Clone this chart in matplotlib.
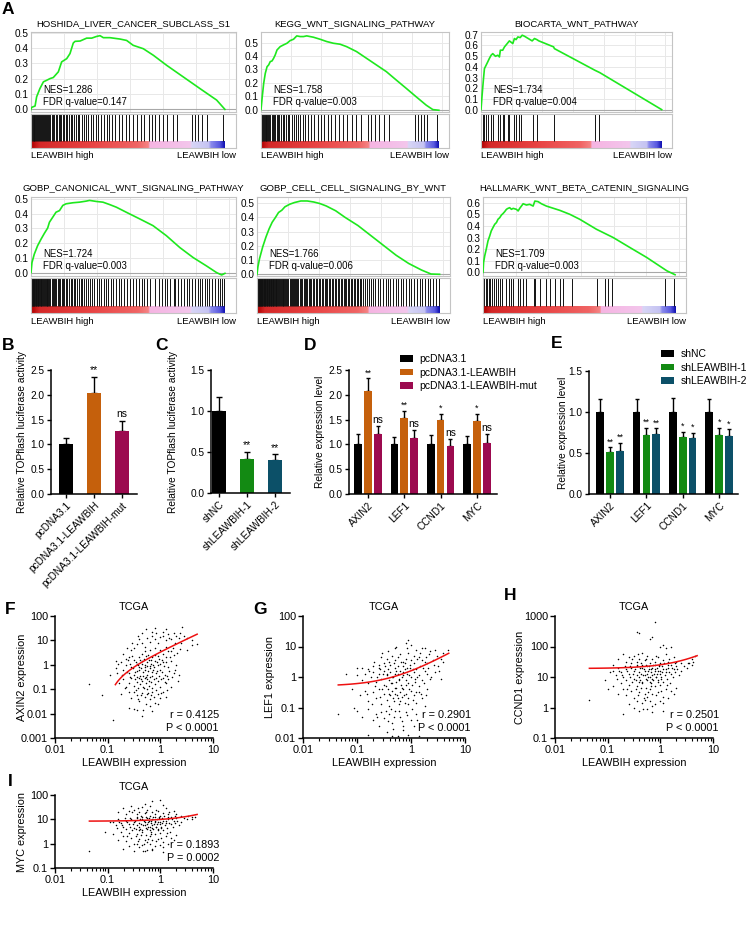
import numpy as np
import matplotlib
matplotlib.use('Agg')
import matplotlib.pyplot as plt
from matplotlib.colors import LinearSegmentedColormap
from matplotlib.ticker import LogLocator, NullLocator, NullFormatter

plt.rcParams['font.family'] = ['Liberation Sans', 'DejaVu Sans']
W, H = 749, 951
fig = plt.figure(figsize=(W / 100, H / 100), dpi=100)


def axpx(l, t, r, b):
    return fig.add_axes([l / W, 1 - b / H, (r - l) / W, (b - t) / H])


def ftext(x, y, s, **kw):
    fig.text(x / W, 1 - y / H, s, **kw)


# ------------------------------------------------------------------ GSEA data
gsea_titles = ['HOSHIDA_LIVER_CANCER_SUBCLASS_S1', 'KEGG_WNT_SIGNALING_PATHWAY',
               'BIOCARTA_WNT_PATHWAY', 'GOBP_CANONICAL_WNT_SIGNALING_PATHWAY',
               'GOBP_CELL_CELL_SIGNALING_BY_WNT', 'HALLMARK_WNT_BETA_CATENIN_SIGNALING']
gsea_nes = ['1.286', '1.758', '1.734', '1.724', '1.766', '1.709']
gsea_fdr = ['0.147', '0.003', '0.004', '0.003', '0.006', '0.003']

es1_x = [0, .003, .021, .029, .046, .064, .081, .098, .115, .141, .158, .184, .201, .218, .227, .253, .287, .313,
         .338, .356, .373, .407, .459, .493, .527, .579, .631, .699, .785, .871, .957, 1.0]
es1_y = [0, .013, .022, .082, .136, .180, .190, .201, .208, .245, .310, .331, .364, .433, .444, .446, .465, .465,
         .476, .481, .468, .468, .459, .450, .418, .396, .353, .288, .212, .136, .061, 0.0]
es2_x = [0, .007, .015, .024, .034, .043, .052, .062, .071, .080, .090, .108, .127, .146, .164, .183, .201, .220,
         .239, .257, .295, .332, .369, .407, .444, .481, .537, .593, .649, .705, .761, .817, .873, .929, .966, 1.0]
es2_y = [0, .095, .195, .27, .32, .333, .358, .363, .383, .408, .445, .47, .483, .495, .515, .525, .55, .545,
         .545, .55, .54, .525, .508, .495, .488, .47, .433, .383, .333, .283, .22, .158, .095, .033, 0.0, -.005]
es3_x = [0, .006, .013, .019, .028, .037, .046, .056, .065, .080, .093, .102, .107, .120, .130, .148, .157, .176,
         .185, .194, .204, .217, .228, .241, .283, .296, .309, .320, .402, .406, .630, .657, 1.0]
es3_y = [0, .134, .274, .383, .414, .445, .477, .508, .523, .498, .508, .492, .555, .555, .586, .623, .642, .617,
         .664, .654, .679, .673, .695, .685, .642, .664, .654, .642, .586, .570, .368, .346, 0.0]
es4_x = [0, .005, .017, .034, .052, .069, .086, .095, .112, .129, .147, .164, .181, .216, .250, .284, .302, .336,
         .371, .405, .440, .491, .560, .629, .698, .767, .836, .905, .957, .983, 1.0]
es4_y = [0, .068, .125, .182, .227, .266, .302, .341, .375, .409, .420, .455, .466, .473, .477, .484, .489, .482,
         .477, .461, .443, .409, .364, .318, .25, .170, .102, .045, 0, -.016, -.005]
es5_x = [0, .005, .014, .031, .049, .066, .083, .101, .118, .136, .153, .179, .205, .240, .275, .310, .344, .379,
         .431, .483, .553, .623, .692, .762, .831, .901, .953, 1.0]
es5_y = [0, .053, .111, .192, .262, .319, .366, .400, .435, .451, .475, .493, .505, .516, .516, .509, .498, .481,
         .447, .400, .343, .273, .204, .134, .076, .030, .002, 0]
es6_x = [0, .003, .009, .017, .026, .035, .043, .052, .061, .070, .078, .087, .096, .104, .113, .122, .130, .139,
         .148, .157, .174, .183, .191, .209, .226, .243, .261, .270, .287, .304, .330, .4, .452, .504, .591, .678,
         .765, .852, .957, 1.0]
es6_y = [0, .086, .143, .2, .271, .314, .357, .386, .414, .429, .457, .471, .494, .506, .523, .543, .551, .557,
         .543, .551, .543, .529, .551, .591, .580, .586, .571, .614, .609, .591, .571, .534, .5, .457, .371, .3,
         .214, .129, .014, -.02]

# hit positions along the ranked list (per mille)
hits1 = [0, 5, 9, 14, 18, 22, 27, 31, 36, 40, 46, 51, 57, 62, 66, 72, 77, 83, 88, 93, 100, 108, 115, 121, 128,
         135, 142, 150, 157, 165, 172, 180, 188, 196, 205, 213, 222, 230, 240, 250, 262, 272, 285, 296, 310, 322,
         335, 348, 362, 375, 390, 404, 420, 435, 452, 470, 488, 505, 525, 545, 565, 585, 610, 625, 640, 660, 680,
         700, 730, 755, 830, 845, 860, 880, 910, 990]
hits2 = [0, 4, 8, 12, 17, 21, 26, 30, 35, 40, 47, 53, 60, 66, 73, 80, 88, 95, 104, 112, 121, 130, 140, 150, 160,
         172, 183, 195, 208, 220, 235, 250, 265, 282, 300, 318, 336, 355, 375, 395, 418, 440, 462, 485, 510, 535,
         560, 600, 620, 640, 665, 690, 720, 865, 880, 900, 915, 935, 990]
hits3 = [0, 9, 19, 28, 37, 56, 69, 93, 107, 120, 130, 148, 157, 185, 194, 213, 222, 287, 309, 402, 630, 652]
hits4 = [0, 3, 6, 9, 12, 15, 18, 21, 24, 27, 30, 34, 38, 42, 46, 50, 54, 58, 62, 66, 70, 75, 80, 85, 90, 95, 100,
         106, 112, 118, 124, 130, 137, 144, 151, 158, 165, 172, 180, 188, 196, 204, 212, 220, 229, 238, 247, 256,
         265, 275, 285, 295, 305, 316, 327, 338, 350, 362, 374, 386, 399, 412, 425, 438, 452, 466, 480, 495, 510,
         525, 540, 555, 570, 585, 600, 615, 640, 660, 675, 690, 700, 715, 735, 745, 760, 775, 790, 805, 815, 830,
         845, 860, 870, 880, 895, 905, 920, 935, 950, 965, 975, 985, 995]
hits5 = [0, 3, 6, 9, 12, 15, 18, 21, 24, 27, 30, 33, 36, 40, 43, 46, 50, 53, 56, 60, 63, 67, 70, 74, 78, 82, 86,
         90, 94, 98, 102, 106, 110, 115, 120, 125, 130, 135, 140, 145, 150, 155, 160, 166, 172, 178, 184, 190, 196,
         202, 208, 214, 220, 227, 234, 241, 248, 255, 262, 269, 276, 283, 290, 298, 306, 314, 322, 330, 338, 346,
         354, 362, 370, 378, 386, 394, 402, 410, 418, 426, 434, 442, 450, 458, 466, 474, 482, 490, 498, 506, 514,
         522, 530, 538, 546, 554, 562, 570, 580, 590, 600, 612, 625, 635, 648, 660, 672, 690, 705, 718, 730, 745,
         760, 772, 790, 800, 815, 830, 845, 860, 875, 890, 905, 920, 935, 950, 965, 980, 995]
hits6 = [3, 14, 21, 31, 38, 45, 56, 66, 78, 87, 101, 122, 134, 144, 157, 183, 195, 209, 226, 264, 270, 296, 330,
         348, 374, 400, 417, 461, 591, 635, 652, 670, 948, 995]

es_x = [es1_x, es2_x, es3_x, es4_x, es5_x, es6_x]
es_y = [es1_y, es2_y, es3_y, es4_y, es5_y, es6_y]
hits = [hits1, hits2, hits3, hits4, hits5, hits6]
gsea_ylim = [(-0.017, 0.505), (-0.018, 0.579), (-0.022, 0.725), (-0.023, 0.512), (-0.012, 0.544), (-0.031, 0.649)]
gsea_ytop = [0.5, 0.5, 0.7, 0.5, 0.5, 0.6]

gsea_left = [31, 261, 481, 31, 257, 483]
gsea_right = [236, 449, 672, 236, 450, 686]
row_es_top = [32, 197]
row_es_bot = [112, 276]
row_strip_top = [114, 278]
row_strip_bot = [148, 313]
row_title_y = [24, 188]
row_lab_y = [156, 321]

rank_cmap = LinearSegmentedColormap.from_list('rank', [
    (0.0, '#b00000'), (0.04, '#d42828'), (0.3, '#e84242'), (0.55, '#f06464'), (0.607, '#f58484'),
    (0.612, '#f6b4e2'), (0.825, '#f3c6ec'), (0.83, '#d8d6f6'), (0.92, '#c4c2f2'), (0.93, '#8c8cec'),
    (0.975, '#5a5ae0'), (1.0, '#1414b4')])

frame_c = '#c4c4c4'
grid_c = '#e8e8e8'
xmax_list = 1.057

for i in range(6):
    row = i // 3
    l, r = gsea_left[i], gsea_right[i]
    ax = axpx(l, row_es_top[row], r, row_es_bot[row])
    ax.set_xlim(0, xmax_list)
    ax.set_ylim(*gsea_ylim[i])
    ax.set_xticks([0.17, 0.34, 0.51, 0.68, 0.85, 1.02])
    ax.set_xticklabels([])
    yt = np.round(np.arange(0, gsea_ytop[i] + 0.001, 0.1), 1)
    ax.set_yticks(yt)
    ax.set_yticklabels(['%.1f' % v for v in yt], fontsize=7.2)
    ax.tick_params(length=0, pad=2)
    ax.grid(True, color=grid_c, lw=0.7)
    ax.set_axisbelow(True)
    for s in ax.spines.values():
        s.set_color(frame_c)
        s.set_linewidth(0.8)
    ax.axhline(0, color='#a8a8a8', lw=0.8, zorder=1)
    ax.plot(es_x[i], es_y[i], color='#1ee81e', lw=1.2, zorder=3)
    ftext(l + 12, row_es_bot[row] - 22, 'NES=' + gsea_nes[i], fontsize=6.9, va='center', ha='left')
    ftext(l + 12, row_es_bot[row] - 10, 'FDR q-value=' + gsea_fdr[i], fontsize=6.9, va='center', ha='left')
    ftext((l + r) / 2, row_title_y[row], gsea_titles[i], fontsize=6.8, ha='center', va='center')

    sx = axpx(l, row_strip_top[row], r, row_strip_bot[row])
    sx.set_xticks([])
    sx.set_yticks([])
    for s in sx.spines.values():
        s.set_color(frame_c)
        s.set_linewidth(0.8)
    sx.vlines(np.array(hits[i]) / 1000.0, 0.2, 1.0, color='#111111', lw=0.7)
    sx.imshow(np.linspace(0, 1, 400)[None, :], extent=(0, 1, 0, 0.2), aspect='auto', cmap=rank_cmap)
    sx.set_xlim(0, xmax_list)
    sx.set_ylim(0, 1)
    ftext(l, row_lab_y[row], 'LEAWBIH high', fontsize=6.8, ha='left', va='center')
    ftext(r, row_lab_y[row], 'LEAWBIH low', fontsize=6.8, ha='right', va='center')

# ------------------------------------------------------------------ bar data
B_labels = ['pcDNA3.1', 'pcDNA3.1-LEAWBIH', 'pcDNA3.1-LEAWBIH-mut']
B_vals = [1.0, 2.03, 1.27]
B_err = [0.12, 0.33, 0.20]
B_sig = ['', '**', 'ns']
B_colors = ['#000000', '#c5600c', '#9c0a4f']

C_labels = ['shNC', 'shLEAWBIH-1', 'shLEAWBIH-2']
C_vals = [1.0, 0.42, 0.40]
C_err = [0.17, 0.08, 0.07]
C_sig = ['', '**', '**']
C_colors = ['#000000', '#138a13', '#0c5068']

genes = ['AXIN2', 'LEF1', 'CCND1', 'MYC']
D_series = ['pcDNA3.1', 'pcDNA3.1-LEAWBIH', 'pcDNA3.1-LEAWBIH-mut']
D_vals = [[1.0, 1.0, 1.0, 1.0], [2.08, 1.53, 1.49, 1.47], [1.21, 1.12, 0.97, 1.03]]
D_err = [[0.21, 0.15, 0.19, 0.16], [0.25, 0.14, 0.12, 0.14], [0.17, 0.17, 0.14, 0.17]]
D_sig = [['', '', '', ''], ['**', '**', '*', '*'], ['ns', 'ns', 'ns', 'ns']]

E_series = ['shNC', 'shLEAWBIH-1', 'shLEAWBIH-2']
E_vals = [[1.0, 1.0, 1.0, 1.0], [0.51, 0.72, 0.70, 0.72], [0.52, 0.73, 0.68, 0.71]]
E_err = [[0.16, 0.16, 0.17, 0.16], [0.06, 0.09, 0.06, 0.09], [0.10, 0.07, 0.07, 0.08]]
E_sig = [['', '', '', ''], ['**', '**', '*', '*'], ['**', '**', '*', '*']]

TK = 7.3


def style_bar_ax(ax):
    for s in ['top', 'right']:
        ax.spines[s].set_visible(False)
    for s in ['left', 'bottom']:
        ax.spines[s].set_linewidth(1.1)
    ax.tick_params(direction='out', length=3, width=1, labelsize=TK, pad=1.5)


def simple_bars(l, t, r, b, labels, vals, errs, sig, colors, xlim, ymax, ylab, ylab_x):
    ax = axpx(l, t, r, b)
    x = np.arange(len(vals))
    ax.bar(x, vals, width=0.5, color=colors, zorder=2)
    ax.errorbar(x, vals, yerr=[np.zeros(len(vals)), errs], fmt='none', ecolor='black', elinewidth=1,
                capsize=2.2, capthick=1, zorder=1)
    for xi, v, e, s in zip(x, vals, errs, sig):
        if s:
            ax.text(xi, v + e + ymax * 0.015, s, ha='center', va='bottom', fontsize=7.5)
    ax.set_xlim(*xlim)
    ax.set_ylim(0, ymax)
    ax.set_yticks(np.arange(0, ymax + 0.01, 0.5))
    ax.set_yticklabels(['%.1f' % v for v in np.arange(0, ymax + 0.01, 0.5)])
    ax.set_xticks(x)
    ax.set_xticklabels(labels, rotation=45, ha='right', rotation_mode='anchor')
    style_bar_ax(ax)
    ftext(ylab_x, (t + b) / 2, ylab, rotation=90, ha='center', va='center', fontsize=7.3)
    return ax


simple_bars(51, 370, 137, 494, B_labels, B_vals, B_err, B_sig, B_colors, (-0.54, 2.54), 2.5,
            'Relative TOPflash luciferase activity', 22)
simple_bars(211, 370, 290, 493, C_labels, C_vals, C_err, C_sig, C_colors, (-0.29, 2.54), 1.5,
            'Relative TOPflash luciferase activity', 173)


def grouped_bars(l, t, r, b, vals, errs, sig, colors, series, xlim, ymax, leg_x, leg_y):
    ax = axpx(l, t, r, b)
    x = np.arange(len(genes))
    offs = [-0.27, 0.0, 0.27]
    handles = []
    for k in range(3):
        hb = ax.bar(x + offs[k], vals[k], width=0.21, color=colors[k], zorder=2, label=series[k])
        handles.append(hb)
        ax.errorbar(x + offs[k], vals[k], yerr=[np.zeros(4), errs[k]], fmt='none', ecolor='black',
                    elinewidth=1, capsize=1.6, capthick=1, zorder=1)
        for xi, v, e, s in zip(x + offs[k], vals[k], errs[k], sig[k]):
            if s:
                ax.text(xi, v + e + ymax * 0.008, s, ha='center', va='bottom', fontsize=7.3 if s == 'ns' else 6.5)
    ax.set_xlim(*xlim)
    ax.set_ylim(0, ymax)
    ax.set_yticks(np.arange(0, ymax + 0.01, 0.5))
    ax.set_yticklabels(['%.1f' % v for v in np.arange(0, ymax + 0.01, 0.5)])
    ax.set_xticks(x)
    ax.set_xticklabels(genes, rotation=45, ha='right', rotation_mode='anchor')
    style_bar_ax(ax)
    ftext(l - (29 if ymax > 2 else 26), (t + b) / 2, 'Relative expression level', rotation=90, ha='center',
          va='center', fontsize=7.3)
    fig.legend(handles=handles, labels=series, loc='upper left', bbox_to_anchor=(leg_x / W, 1 - leg_y / H),
               frameon=False, fontsize=7.5, handlelength=1.25, handleheight=0.6, handletextpad=0.6,
               labelspacing=0.35, borderaxespad=0, borderpad=0)
    return ax


grouped_bars(349, 370, 497, 494, D_vals, D_err, D_sig, B_colors, D_series, (-0.52, 3.55), 2.5, 400, 354)
grouped_bars(589, 371, 738, 494, E_vals, E_err, E_sig, C_colors, E_series, (-0.58, 3.52), 1.5, 661, 349)

# ------------------------------------------------------------------ scatter data (log10 values)
F_lx = [-0.45, -0.4, -0.35, -0.3, -0.25, -0.2, -0.15, -0.1, -0.05, 0.0, 0.05, 0.1, 0.15, 0.2, 0.3, 0.35, -0.55,
        -0.5, -0.3, -0.2, -0.1, 0.0, 0.1, 0.2, -0.6, -0.7, -0.15, 0.05, -0.35,
        -0.75, -0.7, -0.65, -0.6, -0.55, -0.5, -0.5, -0.45, -0.45, -0.4, -0.4, -0.38, -0.35, -0.33, -0.3, -0.3,
        -0.28, -0.25, -0.25, -0.22, -0.2, -0.18, -0.15, -0.15, -0.12, -0.1, -0.08, -0.05, -0.02, 0.0, 0.05, 0.08,
        0.1, 0.15, 0.2, 0.25, 0.3, -0.85, -0.8, -0.62, -0.35,
        -0.7, -0.6, -0.55, -0.5, -0.48, -0.45, -0.42, -0.4, -0.38, -0.35, -0.33, -0.3, -0.28, -0.25, -0.22, -0.2,
        -0.18, -0.15, -0.12, -0.1, -0.05, 0.0, 0.05, 0.1, 0.15, -0.65, -0.25,
        -0.75, -0.6, -0.55, -0.5, -0.45, -0.4, -0.35, -0.3, -0.28, -0.25, -0.2, -0.15, -0.12, -0.1, -0.05, 0.0,
        0.05, -0.6, -0.5, -0.45, -0.35, -0.2, 0.1,
        -1.35, -1.1, -0.9, -0.95, -0.85, 0.6, 0.7, 0.6, 0.42, 0.1, -0.1, 0.25, 0.35, 0.4, 0.5,
        -0.48, -0.46, -0.44, -0.42, -0.41, -0.39, -0.37, -0.36, -0.34, -0.32, -0.31, -0.29, -0.27, -0.26, -0.24,
        -0.23, -0.21, -0.19, -0.17, -0.16, -0.14, -0.13, -0.11, -0.09, -0.07, -0.06, -0.04, -0.03, -0.01, 0.01,
        0.03, 0.04, 0.06, 0.07, 0.09, 0.11, 0.12, 0.14, 0.16, 0.18, 0.22, 0.24, 0.27, 0.28, 0.32, 0.33, 0.37, 0.45,
        0.5, 0.38, -0.52, -0.54, -0.57, -0.58, -0.63, -0.66, -0.68, -0.72, -0.78, -0.82, -0.47, -0.43, -0.37, -0.31,
        -0.23, -0.17, -0.08, 0.02, 0.12, -0.53, -0.43, -0.27, -0.08, 0.17, 0.26, -0.63, -0.33, -0.15, -0.05, 0.2]
F_ly = [0.85, 1.05, 0.9, 0.75, 1.1, 0.95, 1.2, 1.05, 0.9, 1.15, 1.2, 1.0, 1.25, 1.05, 1.2, 1.1, 0.6,
        0.7, 0.55, 0.6, 0.7, 0.6, 0.75, 0.55, 0.3, 0.45, 1.35, 1.35, 1.3,
        0.1, -0.2, 0.0, -0.35, -0.1, 0.2, -0.4, 0.05, -0.25, 0.3, -0.1, -0.45, 0.15, -0.3, 0.0, -0.2,
        0.35, -0.05, -0.4, 0.2, -0.15, 0.05, -0.3, 0.3, -0.1, 0.15, -0.35, 0.0, 0.25, -0.2, 0.1, -0.4,
        0.3, -0.1, 0.15, 0.4, 0.0, -0.15, 0.05, 0.2, 0.45,
        -0.6, -0.75, -0.55, -0.85, -0.6, -0.7, -0.95, -0.55, -0.8, -0.65, -0.9, -0.55, -0.75, -0.6, -0.85, -0.5,
        -0.7, -0.95, -0.6, -0.8, -0.65, -0.9, -0.55, -0.75, -0.6, -0.9, -1.0,
        -1.2, -1.1, -1.35, -1.1, -1.25, -1.5, -1.15, -1.3, -1.6, -1.2, -1.4, -1.1, -1.3, -1.55, -1.2, -1.35,
        -1.1, -1.75, -1.8, -1.85, -2.1, -1.7, -1.3,
        -0.8, -1.25, -2.25, -0.4, 0.15, 0.8, 0.85, 1.0, 1.55, 1.45, 1.5, -0.35, -0.4, 0.9, 1.1,
        -0.3, 0.1, -0.5, 0.0, -0.2, 0.2, -0.6, -0.15, 0.05, -0.45, 0.25, -0.1, -0.5, 0.1, -0.25,
        0.4, -0.65, -0.05, 0.2, -0.45, 0.0, -0.2, 0.4, -0.55, 0.1, -0.25, 0.35, -0.45, 0.05, -0.6,
        0.2, -0.3, 0.45, -0.05, -0.7, 0.1, -0.45, 0.55, -0.25, 0.3, -0.5, 0.7, -0.2, 0.9, 0.5, -0.65, 0.65, 1.2,
        0.6, 1.3, -0.15, 0.35, -0.5, 0.05, -0.3, 0.25, -0.95, -0.4, -0.75, -0.35, -1.05, -1.4, -1.25, -0.95,
        -1.15, -1.25, -1.05, -1.15, -1.05, 0.9, 1.2, 1.45, 1.3, 1.1, 1.3, 0.7, -1.85, -1.9, -1.6, -0.9]

G_lx = [-0.9, -0.8, -0.7, -0.6, -0.5, -0.45, -0.4, -0.35, -0.3, -0.25, -0.2, -0.15, -0.1, -0.05, 0.0, 0.05, 0.1,
        0.15, 0.2, 0.25, 0.3, 0.4, 0.5, 0.55, -0.1, 0.0, -0.3, 0.2, -0.55, 0.35,
        -1.0, -0.9, -0.85, -0.8, -0.75, -0.7, -0.65, -0.6, -0.55, -0.5, -0.5, -0.45, -0.42, -0.4, -0.38, -0.35,
        -0.33, -0.3, -0.28, -0.25, -0.22, -0.2, -0.18, -0.15, -0.12, -0.1, -0.08, -0.05, -0.02, 0.0, 0.05, 0.08,
        0.1, 0.15, 0.2, 0.25, 0.3, 0.35, 0.45, -0.6, -0.3, -0.15,
        -1.1, -0.95, -0.85, -0.8, -0.7, -0.65, -0.6, -0.55, -0.5, -0.45, -0.42, -0.4, -0.38, -0.35, -0.32, -0.3,
        -0.27, -0.25, -0.22, -0.2, -0.17, -0.15, -0.12, -0.1, -0.05, 0.0, 0.05, 0.1, 0.15, 0.2, 0.3,
        -1.0, -0.9, -0.8, -0.7, -0.65, -0.6, -0.55, -0.5, -0.45, -0.4, -0.35, -0.3, -0.25, -0.2, -0.15, -0.1,
        -0.05, 0.0, 0.1, 0.15, -0.8, -0.35,
        -1.35, -1.05, -1.0, -1.2, 0.6, 0.68, 0.6, 0.45, 0.55, -0.05,
        -0.48, -0.46, -0.44, -0.41, -0.39, -0.37, -0.36, -0.34, -0.31, -0.29, -0.27, -0.26, -0.24, -0.23, -0.21,
        -0.19, -0.17, -0.16, -0.14, -0.13, -0.11, -0.09, -0.07, -0.06, -0.04, -0.03, -0.01, 0.01, 0.03, 0.04,
        0.06, 0.07, 0.09, 0.11, 0.12, 0.14, 0.16, 0.18, 0.22, 0.24, 0.27, 0.28, 0.32, 0.33, 0.37, 0.42, 0.48, 0.52,
        -0.52, -0.54, -0.57, -0.58, -0.63, -0.66, -0.68, -0.72, -0.78, -0.82, -0.47, -0.43, -0.37, -0.31, -0.23,
        -0.17, -0.08, 0.02, 0.12, -0.53, -0.43, -0.27, -0.08, 0.17, 0.26, -0.63, -0.33, -0.15, 0.05, 0.25]
G_ly = [0.3, 0.25, 0.35, 0.4, 0.45, 0.6, 0.5, 0.7, 0.55, 0.65, 0.75, 0.5, 0.6, 0.8, 0.55, 0.7, 0.9,
        0.65, 0.55, 0.5, 0.45, 0.55, 0.35, 0.6, 1.1, 1.05, 0.95, 0.95, 0.65, 0.85,
        0.05, -0.1, 0.1, -0.2, 0.0, 0.15, -0.15, 0.1, -0.05, 0.2, -0.25, 0.05, 0.25, -0.1, 0.15, -0.2,
        0.0, 0.3, -0.15, 0.1, -0.05, 0.2, -0.25, 0.05, 0.25, -0.1, 0.1, -0.2, 0.3, 0.0, 0.15, -0.15,
        0.25, 0.05, -0.1, 0.2, 0.1, -0.05, 0.15, 0.3, 0.1, 0.35,
        -0.4, -0.6, -0.45, -0.8, -0.5, -0.7, -0.4, -0.9, -0.55, -0.75, -0.4, -0.95, -0.6, -0.45, -0.8, -0.55,
        -0.35, -0.7, -0.9, -0.5, -0.65, -0.4, -0.85, -0.55, -0.7, -0.45, -0.6, -0.85, -0.5, -0.7, -0.4,
        -1.1, -1.3, -1.05, -1.4, -1.2, -1.6, -1.15, -1.35, -1.8, -1.2, -1.5, -1.1, -1.95, -1.3, -1.6, -1.15,
        -1.9, -1.4, -1.2, -1.95, -1.9, -1.95,
        -1.2, -1.0, 0.3, 0.1, 0.8, 0.9, 0.5, 0.9, -0.05, 1.2,
        0.35, -0.3, 0.1, -0.55, 0.4, -0.2, 0.0, -0.7, 0.45, -0.35, 0.2, -0.6, 0.35, -0.1, -0.8,
        0.5, 0.0, -0.35, 0.15, -0.6, 0.45, -0.25, 0.3, -0.9, 0.05, -0.4, 0.4, -0.25, 0.25, -0.75,
        0.45, -0.05, -0.5, 0.6, 0.0, -0.3, 0.35, -0.55, 0.3, -0.2, 0.65, -0.6, 0.3, 0.75, 0.0, 0.4, 0.7, 0.2,
        0.1, -0.4, 0.25, -0.65, 0.0, -0.3, 0.5, -0.9, 0.2, -0.55, -1.1, -1.45, -1.05, -1.3, -1.1,
        -1.45, -1.25, -1.05, -1.4, 0.8, 0.85, 1.0, 0.95, 0.8, 0.95, -1.3, -1.7, -1.75, -1.6, -0.95]

H_lx = [-0.8, -0.7, -0.6, -0.5, -0.45, -0.4, -0.35, -0.3, -0.25, -0.2, -0.15, -0.1, -0.05, 0.0, 0.05, 0.1, 0.15,
        0.2, 0.3, 0.4, -0.55, -0.65, -0.9, 0.05, 0.0, 0.1, -0.15, -0.2, 0.2, -0.4, -0.45, -0.1,
        -0.9, -0.85, -0.8, -0.75, -0.7, -0.65, -0.6, -0.55, -0.5, -0.5, -0.45, -0.45, -0.4, -0.38, -0.35, -0.32,
        -0.3, -0.28, -0.25, -0.25, -0.22, -0.2, -0.18, -0.15, -0.15, -0.12, -0.1, -0.08, -0.05, -0.02, 0.0, 0.02,
        0.05, 0.1, 0.15, 0.2, 0.25, 0.3, 0.4, 0.5, 0.6, 0.62, 0.55, -0.35, -0.1,
        -0.9, -0.8, -0.75, -0.7, -0.65, -0.6, -0.55, -0.5, -0.45, -0.4, -0.35, -0.3, -0.28, -0.25, -0.2, -0.18,
        -0.15, -0.1, -0.05, 0.0, 0.05, 0.1, 0.15, 0.2, 0.3, -0.4, -0.05,
        -0.7, -0.6, -0.5, -0.45, -0.4, -0.35, -0.25, -0.2, -0.15, -0.1, 0.0, 0.05, -0.3,
        -1.35, -1.05, -0.95, -1.0, 0.6, 0.65,
        -0.48, -0.46, -0.44, -0.41, -0.39, -0.37, -0.36, -0.34, -0.31, -0.29, -0.27, -0.26, -0.24, -0.23, -0.21,
        -0.19, -0.17, -0.16, -0.14, -0.13, -0.11, -0.09, -0.07, -0.06, -0.04, -0.03, -0.01, 0.01, 0.03, 0.04,
        0.06, 0.07, 0.09, 0.11, 0.12, 0.14, 0.16, 0.18, 0.22, 0.24, 0.27, 0.28, 0.32, 0.35, 0.45, 0.52,
        -0.52, -0.54, -0.57, -0.58, -0.63, -0.66, -0.68, -0.72, -0.78, -0.82, -0.47, -0.43, -0.37, -0.31, -0.23,
        -0.17, -0.08, 0.02, 0.12, -0.53, -0.43, -0.27, -0.08, 0.17, 0.26, -0.63, -0.33, -0.15, 0.05, 0.25]
H_ly = [1.6, 1.75, 1.65, 1.7, 1.5, 1.6, 1.8, 1.55, 1.7, 1.45, 1.6, 1.5, 1.65, 1.45, 1.55, 1.75, 1.5,
        1.4, 1.5, 1.45, 1.45, 1.5, 1.4, 2.05, 2.0, 1.95, 2.3, 2.25, 2.0, 2.45, 2.47, 2.81,
        1.2, 1.05, 1.3, 1.15, 1.0, 1.25, 1.1, 1.3, 0.95, 1.2, 1.35, 1.05, 1.15, 0.9, 1.3, 1.05,
        1.2, 0.95, 1.35, 1.1, 1.25, 1.0, 1.15, 1.3, 0.95, 1.1, 1.25, 1.0, 1.2, 1.35, 1.1, 0.95,
        1.25, 1.15, 1.3, 1.1, 1.25, 1.35, 1.2, 1.3, 1.4, 1.5, 1.45, 1.4, 1.38,
        0.7, 0.45, 0.8, 0.6, 0.4, 0.75, 0.55, 0.3, 0.7, 0.5, 0.8, 0.45, 0.65, 0.35, 0.6, 0.8,
        0.45, 0.7, 0.5, 0.75, 0.35, 0.6, 0.3, 0.55, 0.65, 0.85, 0.85,
        -0.2, 0.1, 0.0, 0.2, -0.1, 0.15, -0.05, 0.2, -0.15, 0.1, 0.2, 0.15, 0.25,
        0.25, 0.9, 1.15, 0.6, 1.6, 1.7,
        1.25, 0.9, 1.4, 1.0, 1.3, 1.1, 1.45, 0.85, 1.25, 1.05, 1.4, 0.9, 1.2, 1.0, 1.35,
        0.85, 1.25, 1.05, 1.4, 0.9, 1.2, 1.0, 1.3, 1.1, 0.9, 1.4, 1.2, 1.0, 1.35, 1.15,
        0.85, 1.45, 1.05, 1.25, 0.95, 1.4, 1.15, 0.8, 1.3, 1.0, 1.45, 1.15, 1.25, 1.05, 1.35, 1.45,
        1.1, 0.85, 1.35, 1.0, 1.2, 0.9, 1.35, 1.05, 1.2, 0.95, 0.6, 0.4, 0.65, 0.3, 0.5,
        0.7, 0.4, 0.55, 0.75, 1.6, 1.75, 1.6, 1.7, 1.6, 1.65, 0.6, -0.05, 0.05, -0.1, 0.45]

I_lx = [-0.8, -0.7, -0.6, -0.5, -0.45, -0.4, -0.35, -0.3, -0.25, -0.2, -0.15, -0.1, -0.05, 0.0, 0.05, 0.1, 0.15,
        0.2, 0.3, 0.4, -0.55, -0.65, 0.05, -0.15, -0.3, 0.0, -0.2,
        -0.9, -0.85, -0.8, -0.75, -0.7, -0.65, -0.6, -0.55, -0.5, -0.5, -0.45, -0.45, -0.4, -0.38, -0.35, -0.32,
        -0.3, -0.28, -0.25, -0.25, -0.22, -0.2, -0.18, -0.15, -0.15, -0.12, -0.1, -0.08, -0.05, -0.02, 0.0, 0.02,
        0.05, 0.1, 0.15, 0.2, 0.25, 0.3, 0.4, 0.5, 0.6, -0.35, -0.1,
        -0.9, -0.8, -0.75, -0.7, -0.65, -0.6, -0.55, -0.5, -0.45, -0.4, -0.35, -0.3, -0.28, -0.25, -0.2, -0.18,
        -0.15, -0.1, -0.05, 0.0, 0.05, 0.1, 0.15, 0.2, 0.3, -0.4, -0.05,
        -0.7, -0.6, -0.5, -0.45, -0.4, -0.35, -0.25, -0.2, -0.15, -0.1, 0.0, 0.05, -0.3,
        -1.35, -1.05, -0.95, 0.6, 0.65,
        -0.48, -0.46, -0.44, -0.41, -0.39, -0.37, -0.36, -0.34, -0.31, -0.29, -0.27, -0.26, -0.24, -0.23, -0.21,
        -0.19, -0.17, -0.16, -0.14, -0.13, -0.11, -0.09, -0.07, -0.06, -0.04, -0.03, -0.01, 0.01, 0.03, 0.04,
        0.06, 0.07, 0.09, 0.11, 0.12, 0.14, 0.16, 0.18, 0.22, 0.24, 0.27, 0.28, 0.32, 0.35, 0.45, 0.52,
        -0.52, -0.54, -0.57, -0.58, -0.63, -0.66, -0.68, -0.72, -0.78, -0.82, -0.47, -0.43, -0.37, -0.31, -0.23,
        -0.17, -0.08, 0.02, 0.12, -0.53, -0.43, -0.27, -0.08, 0.17, 0.26, -0.63, -0.33, -0.15, 0.05, 0.25]
I_ly = [1.3, 1.45, 1.35, 1.4, 1.2, 1.3, 1.5, 1.25, 1.4, 1.15, 1.3, 1.2, 1.35, 1.15, 1.25, 1.45, 1.2,
        1.1, 1.2, 1.15, 1.55, 1.2, 1.6, 1.75, 1.65, 1.8, 1.55,
        0.9, 0.75, 1.0, 0.85, 0.7, 0.95, 0.8, 1.0, 0.65, 0.9, 1.05, 0.75, 0.85, 0.6, 1.0, 0.75,
        0.9, 0.65, 1.05, 0.8, 0.95, 0.7, 0.85, 1.0, 0.65, 0.8, 0.95, 0.7, 0.9, 1.05, 0.8, 0.65,
        0.95, 0.85, 1.0, 0.8, 0.95, 1.05, 0.9, 1.0, 1.1, 1.1, 1.08,
        0.4, 0.15, 0.5, 0.3, 0.1, 0.45, 0.25, 0.0, 0.4, 0.2, 0.5, 0.15, 0.35, 0.05, 0.3, 0.5,
        0.15, 0.4, 0.2, 0.45, 0.05, 0.3, 0.0, 0.25, 0.35, 0.55, 0.55,
        -0.2, -0.1, -0.3, 0.0, -0.15, -0.05, -0.25, 0.0, -0.2, -0.1, -0.05, -0.15, -0.3,
        -0.3, 0.5, 0.9, 1.0, 1.1,
        0.95, 0.6, 1.1, 0.7, 1.0, 0.8, 1.15, 0.55, 0.95, 0.75, 1.1, 0.6, 0.9, 0.7, 1.05,
        0.55, 0.95, 0.75, 1.1, 0.6, 0.9, 0.7, 1.0, 0.8, 0.6, 1.1, 0.9, 0.7, 1.05, 0.85,
        0.55, 1.15, 0.75, 0.95, 0.65, 1.1, 0.85, 0.5, 1.0, 0.7, 1.15, 0.85, 0.95, 0.75, 1.05, 1.15,
        0.8, 0.55, 1.05, 0.7, 0.9, 0.6, 1.05, 0.75, 0.9, 0.65, 0.3, 0.1, 0.35, 0.0, 0.2,
        0.4, 0.1, 0.25, 0.45, 1.3, 1.45, 1.3, 1.4, 1.3, 1.35, 0.3, -0.3, -0.25, -0.35, 0.15]

F_fit = (-0.36, 3.67, 0.14, 5.0)    # intercept, slope, x from, x to
G_fit = (0.50, 1.10, 0.045, 5.0)
H_fit = (19.0, 6.2, 0.045, 5.0)
I_fit = (8.4, 1.5, 0.045, 5.0)


def scatter_panel(l, t, r, b, lx, ly, ydec, fit, ylabel, ylab_x, rtxt, ptxt, title_y, xlab_y):
    ax = axpx(l, t, r, b)
    ax.set_xscale('log')
    ax.set_yscale('log')
    ax.scatter(10.0 ** np.array(lx), 10.0 ** np.array(ly), s=1.2, c='black', linewidths=0, zorder=2)
    a, s, x0, x1 = fit
    xf = np.logspace(np.log10(x0), np.log10(x1), 120)
    ax.plot(xf, a + s * xf, color='#ee1111', lw=1.1, zorder=3)
    ax.set_xlim(0.01, 10)
    ax.set_ylim(10.0 ** ydec[0], 10.0 ** ydec[-1])
    ax.set_xticks([0.01, 0.1, 1, 10])
    ax.set_xticklabels(['0.01', '0.1', '1', '10'])
    ax.set_yticks([10.0 ** d for d in ydec])
    ax.set_yticklabels([('%g' % (10.0 ** d)) for d in ydec])
    ax.xaxis.set_minor_locator(LogLocator(base=10, subs=np.arange(2, 10)))
    ax.xaxis.set_minor_formatter(NullFormatter())
    ax.yaxis.set_minor_locator(NullLocator())
    for sp in ['top', 'right']:
        ax.spines[sp].set_visible(False)
    for sp in ['left', 'bottom']:
        ax.spines[sp].set_linewidth(1.1)
    ax.tick_params(which='major', direction='out', length=3.5, width=1, labelsize=7.8, pad=1.5)
    ax.tick_params(which='minor', direction='out', length=2, width=0.8)
    ftext((l + r) / 2, title_y, 'TCGA', ha='center', va='center', fontsize=7.8)
    ftext((l + r) / 2, xlab_y, 'LEAWBIH expression', ha='center', va='center', fontsize=7.8)
    ftext(ylab_x, (t + b) / 2, ylabel, rotation=90, ha='center', va='center', fontsize=7.8)
    ftext(r + 6, b - 23, rtxt, ha='right', va='center', fontsize=7.8)
    ftext(r + 6, b - 10, ptxt, ha='right', va='center', fontsize=7.8)
    return ax


scatter_panel(55, 616, 213, 738, F_lx, F_ly, [-3, -2, -1, 0, 1, 2], F_fit, 'AXIN2 expression', 22,
              'r = 0.4125', 'P < 0.0001', 607, 763)
scatter_panel(303, 616, 465, 738, G_lx, G_ly, [-2, -1, 0, 1, 2], G_fit, 'LEF1 expression', 270,
              'r = 0.2901', 'P < 0.0001', 607, 763)
scatter_panel(555, 616, 713, 738, H_lx, H_ly, [-1, 0, 1, 2, 3], H_fit, 'CCND1 expression', 520,
              'r = 0.2501', 'P < 0.0001', 607, 763)
scatter_panel(55, 795, 213, 868, I_lx, I_ly, [-1, 0, 1, 2], I_fit, 'MYC expression', 22,
              'r = 0.1893', 'P = 0.0002', 787, 893)

# ------------------------------------------------------------------ panel letters
for letter, (x, y) in zip('ABCDEFGHI', [(8, 10), (8, 345), (162, 345), (310, 345), (557, 344), (10, 610),
                                        (260, 610), (510, 596), (10, 782)]):
    ftext(x, y, letter, fontsize=12.5, fontweight='bold', ha='center', va='center')

fig.savefig('out.png', dpi=100)
